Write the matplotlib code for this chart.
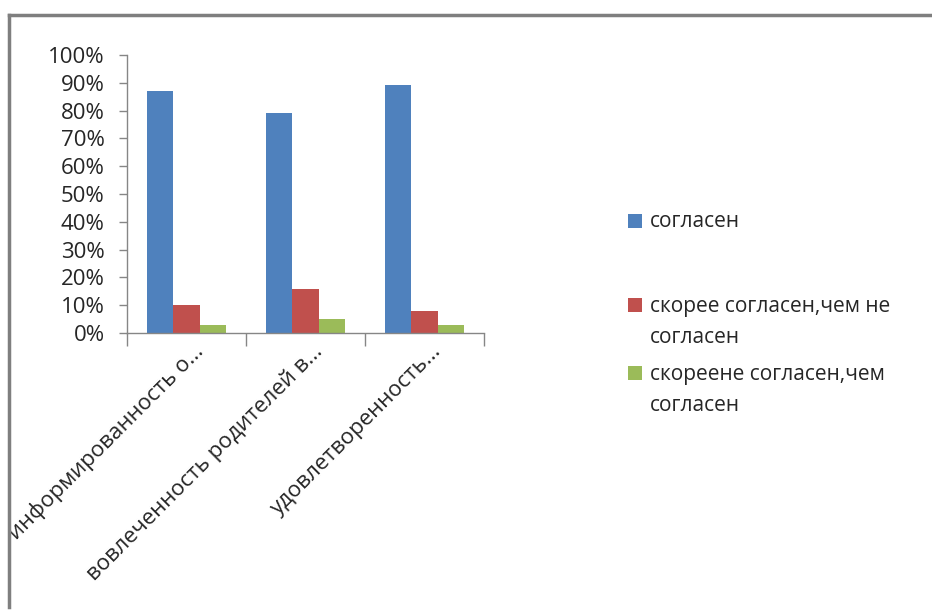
import numpy as np
import matplotlib
matplotlib.use("Agg")
from matplotlib import pyplot as plt
from matplotlib.lines import Line2D
from matplotlib.patches import Rectangle

categories = ["информированность о...", "вовлеченность родителей в...", "удовлетворенность..."]
series_names = ["согласен", "скорее согласен,чем не\nсогласен", "скореене согласен,чем\nсогласен"]
agree = [87, 79, 89]
rather_agree = [10, 16, 8]
rather_disagree = [3, 5, 3]
colors = ["#4F81BD", "#C0504D", "#9BBB59"]
yticks = [0, 10, 20, 30, 40, 50, 60, 70, 80, 90, 100]

plt.rcParams['font.family'] = ['Open Sans', 'DejaVu Sans']
axis_gray = "#868686"
text_col = "#262626"

W, H = 932, 610
fig = plt.figure(figsize=(W / 100, H / 100), dpi=100)
ax = fig.add_axes([0.1363, 0.454, 0.383, 0.456])

x = np.arange(len(categories))
w = 1 / 4.5
for i, vals in enumerate([agree, rather_agree, rather_disagree]):
    ax.bar(x + (i - 1) * w, vals, width=w, color=colors[i], linewidth=0)

ax.set_xlim(-0.5, len(categories) - 0.5)
ax.set_ylim(0, 100)
ax.set_yticks(yticks)
ax.set_yticklabels([f"{v}%" for v in yticks], fontsize=16, color=text_col)
ax.tick_params(axis='y', direction='out', length=6, color=axis_gray, width=1, pad=10)

ax.set_xticks(np.arange(len(categories) + 1) - 0.5)
ax.set_xticklabels([])
ax.tick_params(axis='x', direction='out', length=9, color=axis_gray, width=1)
for i, c in enumerate(categories):
    ax.annotate(c, xy=(i, 0), xycoords=('data', 'axes fraction'), xytext=(10, -11),
                textcoords='offset points', rotation=45, ha='right', va='center',
                rotation_mode='anchor', fontsize=16, color=text_col)

for s in ['top', 'right']:
    ax.spines[s].set_visible(False)
for s in ['left', 'bottom']:
    ax.spines[s].set_color(axis_gray)
    ax.spines[s].set_linewidth(1)

# legend drawn by hand: square next to the first line of each label
square_centers = [221, 305, 373]
line_gap = 32
for name, col, yc in zip(series_names, colors, square_centers):
    fig.add_artist(Rectangle((628 / W, 1 - (yc + 7) / H), 14 / W, 14 / H,
                             transform=fig.transFigure, facecolor=col, edgecolor='none'))
    n_extra = name.count("\n")
    fig.text(650 / W, 1 - (yc + 6 + line_gap * n_extra) / H, name, va='baseline', ha='left',
             fontsize=15, color=text_col, linespacing=1.6)

# outer frame (left and top edges only visible)
fig.add_artist(Line2D([0.0097, 0.0097], [0.005, 0.976], color="#7f7f7f", linewidth=2.5))
fig.add_artist(Line2D([0.0097, 1.0], [0.976, 0.976], color="#7f7f7f", linewidth=2.5))

fig.savefig("out.png", dpi=100)
